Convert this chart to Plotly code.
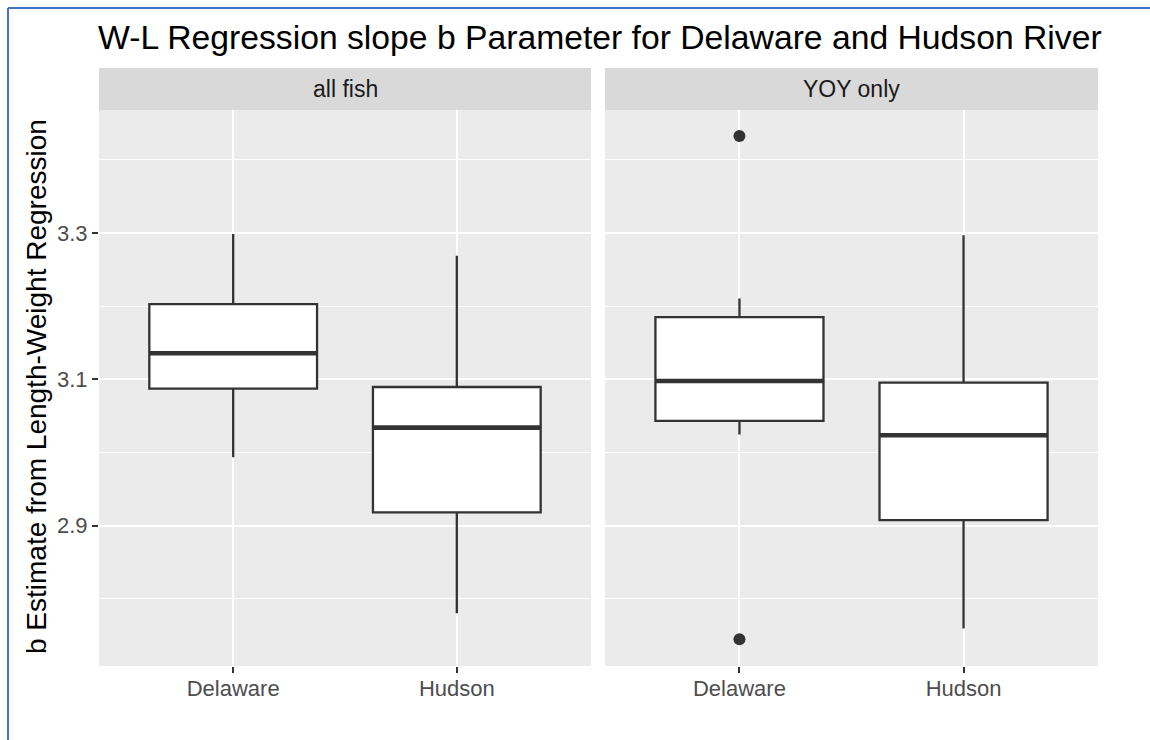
import plotly.graph_objects as go

# ---------------- data ----------------
groups = ["Delaware", "Hudson"]
panels = ["all fish", "YOY only"]

all_fish_lower = [2.9936, 2.7803]
all_fish_q1 = [3.0873, 2.9183]
all_fish_median = [3.1355, 3.0339]
all_fish_q3 = [3.2027, 3.0895]
all_fish_upper = [3.2986, 3.2689]

yoy_lower = [3.0245, 2.7595]
yoy_q1 = [3.0432, 2.9077]
yoy_median = [3.0977, 3.0236]
yoy_q3 = [3.1850, 3.0955]
yoy_upper = [3.2103, 3.2968]

yoy_outlier_group = ["Delaware", "Delaware"]
yoy_outlier_y = [3.4324, 2.7447]

y_major = [2.9, 3.1, 3.3]
y_minor = [2.8, 3.0, 3.2, 3.4]

# ---------------- layout geometry ----------------
W, H = 1150, 740
ML, MR, MT, MB = 99, 52, 110, 74
PW, PH = W - ML - MR, H - MT - MB


def px(xp):
    return (xp - ML) / PW


def py(yp):
    return (H - MB - yp) / PH


LINE = "#333333"
FONT = "Liberation Sans, Arial, Helvetica, sans-serif"
BOX_W = 0.75
pos = list(range(1, len(groups) + 1))

fig = go.Figure()

panel_data = [
    (all_fish_lower, all_fish_q1, all_fish_median, all_fish_q3, all_fish_upper, [], []),
    (yoy_lower, yoy_q1, yoy_median, yoy_q3, yoy_upper, yoy_outlier_group, yoy_outlier_y),
]

for i, (lo, q1, med, q3, up, og, oy) in enumerate(panel_data):
    xa = "x" if i == 0 else "x2"
    ya = "y" if i == 0 else "y2"
    fig.add_trace(go.Box(
        x=pos, q1=q1, median=med, q3=q3, lowerfence=lo, upperfence=up,
        width=BOX_W, whiskerwidth=0, boxpoints=False,
        fillcolor="white", line=dict(color=LINE, width=2.3),
        xaxis=xa, yaxis=ya, showlegend=False, hoverinfo="skip",
    ))
    # thicker median line (ggplot fatten)
    for p, m in zip(pos, med):
        fig.add_trace(go.Scatter(
            x=[p - BOX_W / 2, p + BOX_W / 2], y=[m, m], mode="lines",
            line=dict(color=LINE, width=4.6), xaxis=xa, yaxis=ya,
            showlegend=False, hoverinfo="skip",
        ))
    if oy:
        fig.add_trace(go.Scatter(
            x=[pos[groups.index(g)] for g in og], y=oy, mode="markers",
            marker=dict(color=LINE, size=12), xaxis=xa, yaxis=ya,
            showlegend=False, hoverinfo="skip",
        ))

left_dom = [0, px(591)]
right_dom = [px(605), 1]

xcommon = dict(
    range=[0.4, 2.6], tickmode="array", tickvals=pos, ticktext=groups,
    showgrid=True, gridcolor="white", gridwidth=2.2, zeroline=False,
    showline=False, ticks="outside", ticklen=6, tickwidth=2, tickcolor=LINE,
    ticklabelstandoff=-3,
    tickfont=dict(family=FONT, size=22, color="#4D4D4D"),
)
ycommon = dict(
    range=[2.7083, 3.4679], tickmode="array", tickvals=y_major,
    ticktext=[f"{v:.1f}" for v in y_major],
    showgrid=True, gridcolor="white", gridwidth=2.2, zeroline=False,
    showline=False, ticklen=6, tickwidth=2, tickcolor=LINE,
    tickfont=dict(family=FONT, size=22, color="#4D4D4D"),
    minor=dict(tickmode="array", tickvals=y_minor, showgrid=True,
               gridcolor="white", gridwidth=1.3, ticks=""),
)

fig.update_layout(
    width=W, height=H,
    margin=dict(l=ML, r=MR, t=MT, b=MB),
    paper_bgcolor="white", plot_bgcolor="#EBEBEB",
    xaxis=dict(domain=left_dom, anchor="y", **xcommon),
    xaxis2=dict(domain=right_dom, anchor="y2", **xcommon),
    yaxis=dict(anchor="x", ticks="outside", **ycommon),
    yaxis2=dict(anchor="x2", matches="y", showticklabels=False, ticks="",
                **ycommon),
    title=dict(
        text="W-L Regression slope b Parameter for Delaware and Hudson River",
        font=dict(family=FONT, size=33.7, color="black"),
        x=98 / W, xref="container", xanchor="left",
        y=1 - 37 / H, yref="container", yanchor="middle",
    ),
    showlegend=False,
)

# strips
shapes = []
annotations = []
for dom, label in zip([left_dom, right_dom], panels):
    shapes.append(dict(type="rect", xref="paper", yref="paper",
                       x0=dom[0], x1=dom[1], y0=1, y1=py(68),
                       fillcolor="#D9D9D9", line=dict(width=0), layer="below"))
    annotations.append(dict(text=label, xref="paper", yref="paper",
                            x=(dom[0] + dom[1]) / 2, y=py(89),
                            xanchor="center", yanchor="middle", showarrow=False,
                            font=dict(family=FONT, size=23, color="#1A1A1A")))

# blue frame (left and top edges)
BLUE = "#4472C4"
shapes.append(dict(type="line", xref="paper", yref="paper",
                   x0=px(8), x1=px(8), y0=py(8), y1=py(742),
                   line=dict(color=BLUE, width=2)))
shapes.append(dict(type="line", xref="paper", yref="paper",
                   x0=px(8), x1=px(1152), y0=py(8), y1=py(8),
                   line=dict(color=BLUE, width=2)))

annotations.append(dict(text="b Estimate from Length-Weight Regression",
                        xref="paper", yref="paper", x=px(36), y=py(387),
                        xanchor="center", yanchor="middle", textangle=-90,
                        showarrow=False,
                        font=dict(family=FONT, size=28, color="black")))

fig.update_layout(shapes=shapes, annotations=annotations)

fig.write_html("out.html")
